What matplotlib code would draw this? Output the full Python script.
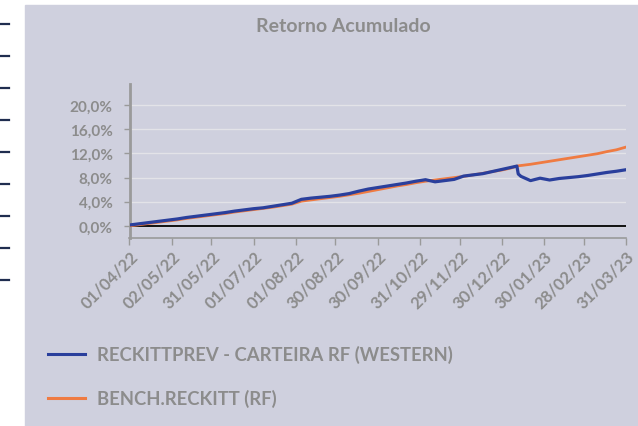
import numpy as np
import pandas as pd
import matplotlib
matplotlib.use('Agg')
import matplotlib.pyplot as plt
from matplotlib.ticker import FuncFormatter
from matplotlib.lines import Line2D
from matplotlib.patches import Rectangle

# weekly readings (plus the two days around the January drop)
dates = ['2022-04-01', '2022-04-08', '2022-04-15', '2022-04-22', '2022-04-29',
         '2022-05-06', '2022-05-13', '2022-05-20', '2022-05-27', '2022-06-03',
         '2022-06-10', '2022-06-17', '2022-06-24', '2022-07-01', '2022-07-08',
         '2022-07-15', '2022-07-22', '2022-07-29', '2022-08-05', '2022-08-12',
         '2022-08-19', '2022-08-26', '2022-09-02', '2022-09-09', '2022-09-16',
         '2022-09-23', '2022-09-30', '2022-10-07', '2022-10-14', '2022-10-21',
         '2022-10-28', '2022-11-04', '2022-11-11', '2022-11-18', '2022-11-25',
         '2022-12-02', '2022-12-09', '2022-12-16', '2022-12-23', '2022-12-30',
         '2023-01-06', '2023-01-10', '2023-01-11', '2023-01-13', '2023-01-20',
         '2023-01-27', '2023-02-03', '2023-02-10', '2023-02-17', '2023-02-24',
         '2023-03-03', '2023-03-10', '2023-03-17', '2023-03-24', '2023-03-31']

carteira = [0.15, 0.35, 0.55, 0.75, 0.95, 1.15, 1.4, 1.6, 1.8, 2.0,
            2.2, 2.45, 2.65, 2.85, 3.0, 3.25, 3.5, 3.75, 4.4, 4.6,
            4.75, 4.9, 5.1, 5.35, 5.75, 6.1, 6.35, 6.6, 6.85, 7.1,
            7.4, 7.65, 7.3, 7.5, 7.7, 8.25, 8.45, 8.65, 9.0, 9.35,
            9.7, 9.9, 8.6, 8.2, 7.5, 7.9, 7.6, 7.85, 8.0, 8.15,
            8.35, 8.6, 8.85, 9.05, 9.3]

bench = [0.0, 0.2, 0.4, 0.6, 0.8, 1.0, 1.25, 1.45, 1.65, 1.85,
         2.05, 2.3, 2.5, 2.7, 2.9, 3.1, 3.35, 3.6, 4.1, 4.3,
         4.5, 4.7, 4.9, 5.15, 5.4, 5.7, 6.0, 6.3, 6.6, 6.85,
         7.15, 7.4, 7.6, 7.8, 8.0, 8.2, 8.45, 8.7, 9.0, 9.25,
         9.6, 9.9, 9.95, 10.0, 10.2, 10.45, 10.7, 10.95, 11.2, 11.45,
         11.7, 11.95, 12.3, 12.6, 13.05]

tick_dates = ['2022-04-01', '2022-05-02', '2022-05-31', '2022-07-01',
              '2022-08-01', '2022-08-30', '2022-09-30', '2022-10-31',
              '2022-11-29', '2022-12-30', '2023-01-30', '2023-02-28',
              '2023-03-31']
y_ticks = [0, 4, 8, 12, 16, 20]

names = ['RECKITTPREV - CARTEIRA RF (WESTERN)', 'BENCH.RECKITT (RF)']

BG = '#CFD0DE'
GRAY = '#8C8C8C'
BLUE = '#2A3F9C'
ORANGE = '#EF7B42'
FONT = 'Lato'


def main():
    x = pd.to_datetime(dates)
    ticks = pd.to_datetime(tick_dates)

    fig = plt.figure(figsize=(6.38, 4.27), dpi=100)
    fig.patch.set_facecolor('white')
    fig.add_artist(Rectangle((25 / 638, 0), 1, 1 - 6 / 427,
                             transform=fig.transFigure, color=BG, zorder=0))
    # stray cell borders at the left edge of the sheet
    for yp in [25, 57, 89, 121, 153, 185, 217, 249, 281]:
        fig.add_artist(Line2D([0, 9 / 638], [1 - yp / 427] * 2,
                              transform=fig.transFigure, color='#1F2D4F', lw=1.6))

    ax = fig.add_axes([129.5 / 638, 1 - 239 / 427, 496.5 / 638, 145 / 427])
    ax.set_facecolor('none')

    ax.plot(x, bench, color=ORANGE, lw=2.0, zorder=3)
    ax.plot(x, carteira, color=BLUE, lw=2.3, zorder=4)
    ax.axhline(0, color='black', lw=1.3, zorder=2)

    ax.set_ylim(-2, 22)
    ax.set_yticks(y_ticks)
    ax.yaxis.set_major_formatter(FuncFormatter(lambda v, p: f'{v:.1f}%'.replace('.', ',')))
    ax.grid(axis='y', color='#E3E3E8', lw=1.0, zorder=1)

    ax.set_xlim(ticks[0], ticks[-1])
    ax.set_xticks(ticks)
    ax.set_xticklabels([t.strftime('%d/%m/%y') for t in ticks])

    for s in ['top', 'right']:
        ax.spines[s].set_visible(False)
    ax.spines['left'].set_color('#9A9A9A')
    ax.spines['left'].set_linewidth(2.0)
    ax.spines['left'].set_bounds(-2, 23.5)
    ax.spines['bottom'].set_color('#9A9A9A')
    ax.spines['bottom'].set_linewidth(1.2)

    ax.tick_params(axis='y', length=4, width=1, color='#9A9A9A', pad=8)
    ax.tick_params(axis='x', length=5, width=1, color='#9A9A9A', pad=2)
    for lab in ax.get_yticklabels():
        lab.set_fontfamily(FONT)
        lab.set_fontweight('bold')
        lab.set_fontsize(11)
        lab.set_color(GRAY)
    for lab in ax.get_xticklabels():
        lab.set_fontfamily(FONT)
        lab.set_fontweight('bold')
        lab.set_fontsize(12)
        lab.set_color(GRAY)
        lab.set_rotation(45)
        lab.set_ha('right')
        lab.set_rotation_mode('anchor')

    fig.text(343 / 638, 1 - 27 / 427, 'Retorno Acumulado', ha='center', va='center',
             fontfamily=FONT, fontweight='bold', fontsize=14, color=GRAY)

    handles = [Line2D([], [], color=BLUE, lw=2.2), Line2D([], [], color=ORANGE, lw=2.2)]
    leg = fig.legend(handles, names, loc='upper left',
                     bbox_to_anchor=(48 / 638, 1 - 346 / 427), frameon=False,
                     borderpad=0, borderaxespad=0,
                     handlelength=2.0, handletextpad=0.66, labelspacing=1.42,
                     prop={'family': FONT, 'weight': 'bold', 'size': 13.3})
    for t in leg.get_texts():
        t.set_color(GRAY)

    fig.savefig('out.png', dpi=100, facecolor=fig.get_facecolor())


if __name__ == '__main__':
    main()
